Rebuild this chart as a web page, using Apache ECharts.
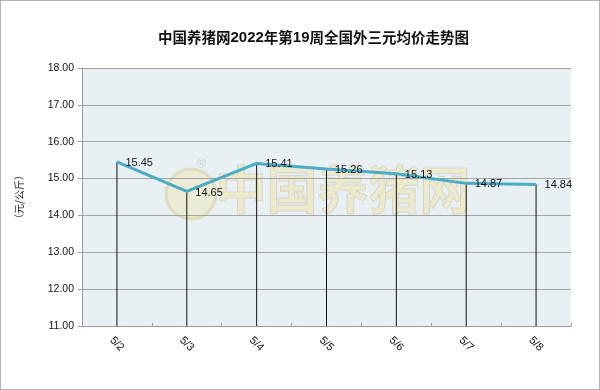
<!DOCTYPE html>
<html><head><meta charset="utf-8">
<script src="https://cdn.jsdelivr.net/npm/echarts@6/dist/echarts.min.js"></script>
<style>html,body{margin:0;padding:0;background:#fff}#c{width:600px;height:390px;box-sizing:border-box;border:1px solid #b0b0b0}</style>
</head><body><div id="c"></div>
<script>
const categories = ['5/2','5/3','5/4','5/5','5/6','5/7','5/8'];
const prices = [15.45, 14.65, 15.41, 15.26, 15.13, 14.87, 14.84];
const yTicks = [11, 12, 13, 14, 15, 16, 17, 18];
const chart = echarts.init(document.getElementById('c'));
chart.setOption({
  animation: false,
  title: {
    text: '{c|中国养猪网}{d|2022}{c|年第}{d|19}{c|周全国外三元均价走势图}',
    left: 152, top: 24,
    textStyle: {
      rich: {
        c: {fontFamily: 'Noto Sans CJK SC', fontSize: 14.5, color: '#111', fontWeight: 'bold'},
        d: {fontFamily: 'Liberation Sans', fontSize: 15, color: '#111', fontWeight: 'bold'}
      }
    }
  },
  graphic: [
    {type: 'circle', z: 0, shape: {cx: 190, cy: 193, r: 25}, style: {fill: 'rgba(240,230,170,0.4)', stroke: 'rgba(200,190,120,0.35)', lineWidth: 3}},
    {type: 'text', z: 0, left: 214, top: 163, style: {text: '中国养猪网', font: 'bold 51px "Noto Sans CJK SC"', fill: 'rgba(242,226,165,0.5)', stroke: 'rgba(140,140,140,0.3)', lineWidth: 1}},
    {type: 'text', z: 0, left: 196, top: 158, style: {text: '®', font: '12px "Liberation Sans"', fill: 'rgba(170,170,170,0.5)'}}
  ],
  grid: {left: 81, right: 28, top: 67, bottom: 63, show: true, backgroundColor: '#e9f0f4', borderWidth: 0},
  xAxis: {
    type: 'category', data: categories, boundaryGap: true,
    axisLine: {lineStyle: {color: '#9a9a9a', width: 1}},
    axisTick: {show: true, inside: true, length: 3, lineStyle: {color: '#9a9a9a'}},
    axisLabel: {rotate: -45, align: 'center', verticalAlign: 'middle', margin: 18, fontFamily: 'Liberation Sans', fontSize: 11, color: '#111'},
    splitLine: {show: false}
  },
  yAxis: {
    type: 'value', min: 11, max: 18, interval: 1,
    name: '（元/公斤）', nameLocation: 'middle', nameGap: 58, nameRotate: 90,
    nameTextStyle: {fontFamily: 'Noto Sans CJK SC', fontSize: 10, color: '#222'},
    axisLine: {show: true, lineStyle: {color: '#9a9a9a'}},
    axisTick: {show: true, length: 4, lineStyle: {color: '#9a9a9a'}},
    axisLabel: {formatter: v => yTicks.includes(v) ? v.toFixed(2) : '', fontFamily: 'Liberation Sans', fontSize: 10.5, color: '#111', margin: 8},
    splitLine: {show: true, lineStyle: {color: '#a4a4a4', width: 1}}
  },
  series: [
    {type: 'bar', data: prices, barWidth: 1, itemStyle: {color: '#111'}, silent: true, z: 1},
    {type: 'line', data: prices, z: 3, symbol: 'circle', symbolSize: 1, showSymbol: true, itemStyle: {color: '#4aacc5'}, lineStyle: {color: '#4aacc5', width: 3},
     label: {show: true, position: 'right', distance: 8, offset: [0, 1], formatter: p => p.value.toFixed(2), fontFamily: 'Liberation Sans', fontSize: 11, color: '#111'}}
  ]
});
</script></body></html>
